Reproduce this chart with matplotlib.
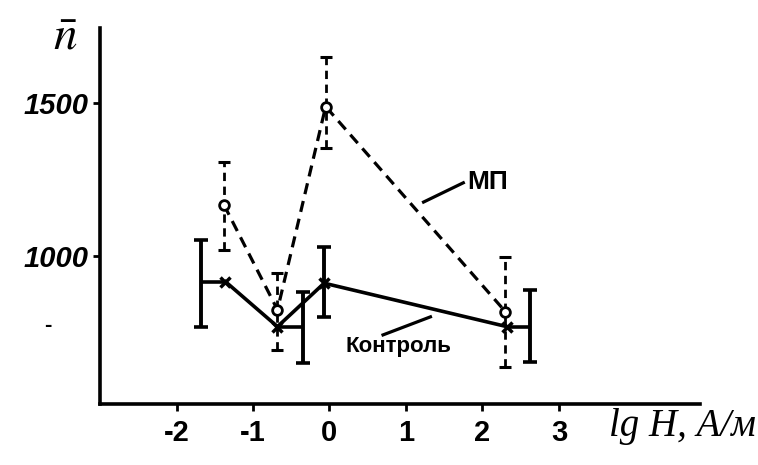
import numpy as np
import matplotlib
matplotlib.use("Agg")
import matplotlib.pyplot as plt

# значения (lg H, A/m  ->  n)
mp_x = [-1.38, -0.68, -0.05, 2.30]
mp_y = [1167, 824, 1488, 818]
mp_lo = [1020, 693, 1352, 638]
mp_hi = [1308, 943, 1651, 998]

ctrl_x = [-1.36, -0.68, -0.07, 2.32]
ctrl_y = [916, 769, 911, 769]
# усы у контроля нарисованы чуть в стороне от точки
ctrl_bar_x = [-1.68, -0.34, -0.07, 2.62]
ctrl_lo = [769, 650, 802, 655]
ctrl_hi = [1052, 883, 1030, 889]

xticks = [-2, -1, 0, 1, 2, 3]
yticks = [1000, 1500]

plt.rcParams['font.family'] = ['Liberation Sans', 'DejaVu Sans']
plt.rcParams['mathtext.fontset'] = 'stix'

fig = plt.figure(figsize=(7.58, 4.65), dpi=100)
ax = fig.add_axes([0.132, 0.131, 0.791, 0.809])
ax.set_xlim(-3.0, 4.84)
ax.set_ylim(516, 1745)

for s in ['top', 'right']:
    ax.spines[s].set_visible(False)
for s in ['left', 'bottom']:
    ax.spines[s].set_linewidth(2.6)

ax.set_xticks(xticks)
ax.set_xticklabels([str(v) for v in xticks], fontsize=21, fontweight='bold')
ax.set_yticks(yticks)
ax.set_yticklabels([str(v) for v in yticks], fontsize=21, fontweight='bold',
                   style='italic')
ax.tick_params(axis='x', direction='out', length=5, width=2, pad=6)
ax.tick_params(axis='y', direction='out', length=5, width=2, pad=3)

# МП - пунктир, кружки
ax.plot(mp_x, mp_y, color='black', lw=2.3, ls=(0, (3.5, 2.2)), zorder=3)
err = ax.errorbar(mp_x, mp_y,
                  yerr=[np.array(mp_y) - np.array(mp_lo), np.array(mp_hi) - np.array(mp_y)],
                  fmt='none', ecolor='black', elinewidth=2.0, capsize=4, capthick=2.2,
                  zorder=3)
err[2][0].set_linestyle((0, (3, 2)))
ax.plot(mp_x, mp_y, 'o', ms=7, mfc='white', mec='black', mew=2, zorder=5)

# контроль - сплошная
ax.plot(ctrl_x, ctrl_y, color='black', lw=2.6, zorder=4)
ax.plot(ctrl_x, ctrl_y, 'x', ms=7, mec='black', mew=2.5, zorder=4)
ax.hlines(ctrl_y, ctrl_x, ctrl_bar_x, color='black', lw=2.6, zorder=4)
ax.errorbar(ctrl_bar_x, ctrl_y,
            yerr=[np.array(ctrl_y) - np.array(ctrl_lo), np.array(ctrl_hi) - np.array(ctrl_y)],
            fmt='none', ecolor='black', elinewidth=2.8, capsize=5, capthick=2.6, zorder=4)

# подписи и выноски
ax.text(1.80, 1242, 'МП', fontsize=19, fontweight='bold', va='center', ha='left')
ax.plot([1.23, 1.75], [1176, 1239], color='black', lw=2.3)
ax.text(0.90, 703, 'Контроль', fontsize=16, fontweight='bold', va='center', ha='center')
ax.plot([0.70, 1.32], [742, 801], color='black', lw=2.3)

fig.text(0.086, 0.92, r'$\bar{n}$', fontsize=34, ha='center', va='center')
fig.text(0.063, 0.30, '-', fontsize=16, fontweight='bold', ha='center', va='center')
fig.text(0.803, 0.082, 'lg H, А/м', fontsize=28, style='italic',
         family=['Liberation Serif', 'DejaVu Serif'], ha='left', va='center')

fig.savefig('out.png', dpi=100)
